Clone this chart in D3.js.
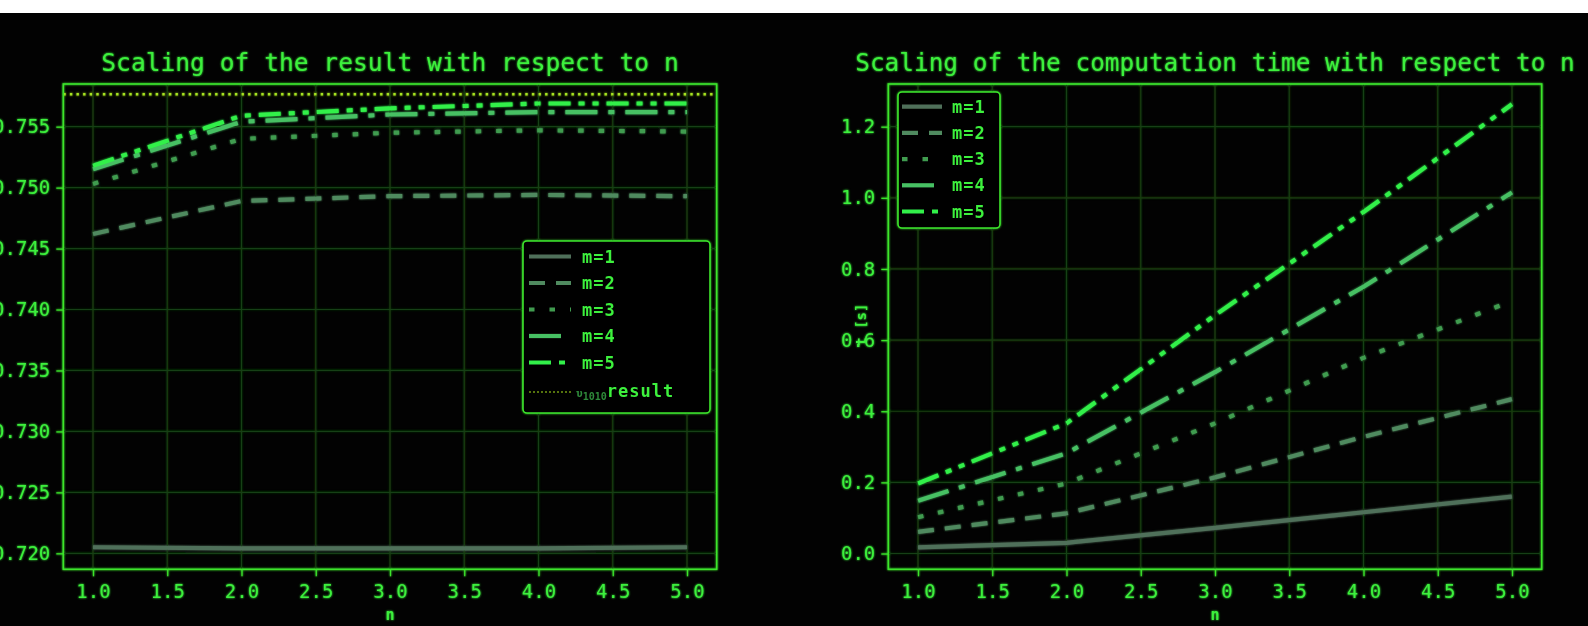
<!DOCTYPE html>
<html>
<head>
<meta charset="utf-8">
<script src="https://cdn.jsdelivr.net/npm/d3@7"></script>
<style>
  html, body { margin: 0; padding: 0; background: #fff; }
  svg { display: block; }
  text { font-family: "DejaVu Sans Mono", "Liberation Mono", monospace; }
</style>
</head>
<body>
<svg id="chart" width="1588" height="626"></svg>
<script>
// ---------------- DATA ----------------
const nValues = [1, 2, 3, 4, 5];
const seriesNames = ["m=1", "m=2", "m=3", "m=4", "m=5"];

// result vs n
const resultM1 = [0.7205, 0.7204, 0.7204, 0.7204, 0.7205];
const resultM2 = [0.7462, 0.7489, 0.7493, 0.7494, 0.7493];
const resultM3 = [0.7503, 0.7540, 0.7545, 0.7547, 0.7546];
const resultM4 = [0.7515, 0.7554, 0.7560, 0.7562, 0.7562];
const resultM5 = [0.7518, 0.7559, 0.7565, 0.7569, 0.7569];
const referenceResult = 0.75766;

// computation time vs n
const timeM1 = [0.017, 0.030, 0.072, 0.116, 0.160];
const timeM2 = [0.061, 0.113, 0.214, 0.328, 0.434];
const timeM3 = [0.102, 0.197, 0.366, 0.550, 0.710];
const timeM4 = [0.148, 0.282, 0.510, 0.750, 1.015];
const timeM5 = [0.197, 0.366, 0.670, 0.960, 1.263];

const xTicks = [1.0, 1.5, 2.0, 2.5, 3.0, 3.5, 4.0, 4.5, 5.0];
const resultTicks = [0.720, 0.725, 0.730, 0.735, 0.740, 0.745, 0.750, 0.755];
const timeTicks = [0.0, 0.2, 0.4, 0.6, 0.8, 1.0, 1.2];

// ---------------- STYLE ----------------
const TEXT = "#3cf03c";
const FRAME = "#3ce62c";
const GRID = "#173f12";
const seriesColors = ["#50705a", "#4f8a5e", "#3f9c50", "#46c064", "#30f048"];
const seriesDash = [null, "16,11", "5.5,15", "32,11,6,11", "22,8,6,8,6,8"];
const REF_COLOR = "#a6e321";

const svg = d3.select("#chart");
const W = 1588, H = 626;

const defs = svg.append("defs");
const glow = defs.append("filter").attr("id", "glow")
  .attr("x", "-5%").attr("y", "-5%").attr("width", "110%").attr("height", "110%");
glow.append("feGaussianBlur").attr("in", "SourceGraphic").attr("stdDeviation", 1.3).attr("result", "b");
const merge = glow.append("feMerge");
merge.append("feMergeNode").attr("in", "b");
merge.append("feMergeNode").attr("in", "SourceGraphic");

svg.append("rect").attr("x", 0).attr("y", 0).attr("width", W).attr("height", H).attr("fill", "#fff");
svg.append("rect").attr("x", 0).attr("y", 13).attr("width", W).attr("height", H - 13).attr("fill", "#020202");

const root = svg.append("g").attr("filter", "url(#glow)");

function drawPanel(cfg) {
  const { left, right, top, bottom, yDomain, yTickVals, yFmt, title, titleSize, series, ref, yLabel, legend } = cfg;
  const x = d3.scaleLinear().domain([0.8, 5.2]).range([left, right]);
  const y = d3.scaleLinear().domain(yDomain).range([bottom, top]);
  const g = root.append("g");

  const clipId = "clip" + Math.round(left);
  defs.append("clipPath").attr("id", clipId).append("rect")
    .attr("x", left).attr("y", top).attr("width", right - left).attr("height", bottom - top);

  // grid
  g.append("g").selectAll("line").data(xTicks).join("line")
    .attr("x1", d => x(d)).attr("x2", d => x(d)).attr("y1", top).attr("y2", bottom)
    .attr("stroke", GRID).attr("stroke-width", 1.2);
  g.append("g").selectAll("line").data(yTickVals).join("line")
    .attr("y1", d => y(d)).attr("y2", d => y(d)).attr("x1", left).attr("x2", right)
    .attr("stroke", GRID).attr("stroke-width", 1.2);

  // axes
  const xAxis = d3.axisBottom(x).tickValues(xTicks).tickFormat(d3.format(".1f")).tickSize(7).tickPadding(8);
  const yAxis = d3.axisLeft(y).tickValues(yTickVals).tickFormat(d3.format(yFmt)).tickSize(7).tickPadding(6);
  const ax = g.append("g").attr("transform", `translate(0,${bottom})`).call(xAxis);
  const ay = g.append("g").attr("transform", `translate(${left},0)`).call(yAxis);
  [ax, ay].forEach(a => {
    a.select(".domain").remove();
    a.selectAll(".tick line").attr("stroke", FRAME).attr("stroke-width", 1.3);
    a.selectAll(".tick text").attr("fill", TEXT).attr("font-size", 19)
      .attr("font-family", "DejaVu Sans Mono");
  });

  // lines
  const plot = g.append("g").attr("clip-path", `url(#${clipId})`);
  if (ref !== undefined) {
    plot.append("line").attr("x1", left).attr("x2", right).attr("y1", y(ref)).attr("y2", y(ref))
      .attr("stroke", REF_COLOR).attr("stroke-width", 2.4).attr("stroke-dasharray", "2.4,4.2");
  }
  const line = d3.line().x((d, i) => x(nValues[i])).y(d => y(d));
  series.forEach((vals, i) => {
    plot.append("path").datum(vals).attr("d", line)
      .attr("fill", "none").attr("stroke", seriesColors[i]).attr("stroke-width", 4.2)
      .attr("stroke-dasharray", seriesDash[i]).attr("stroke-linejoin", "round");
  });

  // frame
  g.append("rect").attr("x", left).attr("y", top).attr("width", right - left).attr("height", bottom - top)
    .attr("fill", "none").attr("stroke", FRAME).attr("stroke-width", 1.6);

  // title
  g.append("text").attr("x", (left + right) / 2).attr("y", 71).attr("text-anchor", "middle")
    .attr("fill", TEXT).attr("font-size", titleSize).text(title);

  // x label
  g.append("text").attr("x", (left + right) / 2).attr("y", 620).attr("text-anchor", "middle")
    .attr("fill", TEXT).attr("font-size", 15).attr("font-weight", "bold").text("n");

  if (yLabel) {
    g.append("text").attr("transform", `translate(${yLabel.x},${(top + bottom) / 2 - 2}) rotate(-90)`)
      .attr("text-anchor", "middle").attr("fill", TEXT).attr("font-size", 14).attr("font-weight", "bold")
      .text(yLabel.text);
  }

  // legend
  const L = legend;
  const lg = g.append("g");
  lg.append("rect").attr("x", L.x).attr("y", L.y).attr("width", L.w).attr("height", L.h)
    .attr("rx", 4).attr("fill", "#020202").attr("stroke", FRAME).attr("stroke-width", 1.6);
  seriesNames.forEach((name, i) => {
    const yy = L.firstY + i * L.step;
    lg.append("line").attr("x1", L.hx0).attr("x2", L.hx1).attr("y1", yy).attr("y2", yy)
      .attr("stroke", seriesColors[i]).attr("stroke-width", 4.2).attr("stroke-dasharray", seriesDash[i]);
    lg.append("text").attr("x", L.tx).attr("y", yy + 6).attr("fill", TEXT)
      .attr("font-size", 17).attr("font-weight", "bold").attr("letter-spacing", 1).text(name);
  });
  if (ref !== undefined) {
    const yy = L.firstY + 5 * L.step + 3;
    lg.append("line").attr("x1", L.hx0).attr("x2", L.hx1).attr("y1", yy).attr("y2", yy)
      .attr("stroke", REF_COLOR).attr("stroke-width", 1.2).attr("stroke-dasharray", "2,2");
    const t = lg.append("text").attr("x", L.tx - 6).attr("y", yy + 5).attr("fill", TEXT).attr("font-weight", "bold");
    t.append("tspan").attr("font-size", 11).attr("fill", "#2f8a3a").text("υ");
    t.append("tspan").attr("font-size", 10).attr("dy", 3).attr("fill", "#2f8a3a").text("1010");
    t.append("tspan").attr("font-size", 17).attr("dy", -3).attr("letter-spacing", 1).text("result");
  }
}

drawPanel({
  left: 63.3, right: 716.7, top: 84, bottom: 569.3,
  yDomain: [0.71869, 0.7585], yTickVals: resultTicks, yFmt: ".3f",
  title: "Scaling of the result with respect to n", titleSize: 24.6,
  series: [resultM1, resultM2, resultM3, resultM4, resultM5],
  ref: referenceResult,
  yLabel: null,
  legend: { x: 523, y: 241, w: 187, h: 172, firstY: 256.5, step: 26.5, hx0: 529, hx1: 571, tx: 582 }
});

drawPanel({
  left: 888.3, right: 1541.7, top: 84, bottom: 569.3,
  yDomain: [-0.0444, 1.32], yTickVals: timeTicks, yFmt: ".1f",
  title: "Scaling of the computation time with respect to n", titleSize: 24.4,
  series: [timeM1, timeM2, timeM3, timeM4, timeM5],
  ref: undefined,
  yLabel: { x: 866, text: "t [s]" },
  legend: { x: 898, y: 92, w: 102, h: 136, firstY: 106.7, step: 26.2, hx0: 902, hx1: 942, tx: 952 }
});
</script>
</body>
</html>
